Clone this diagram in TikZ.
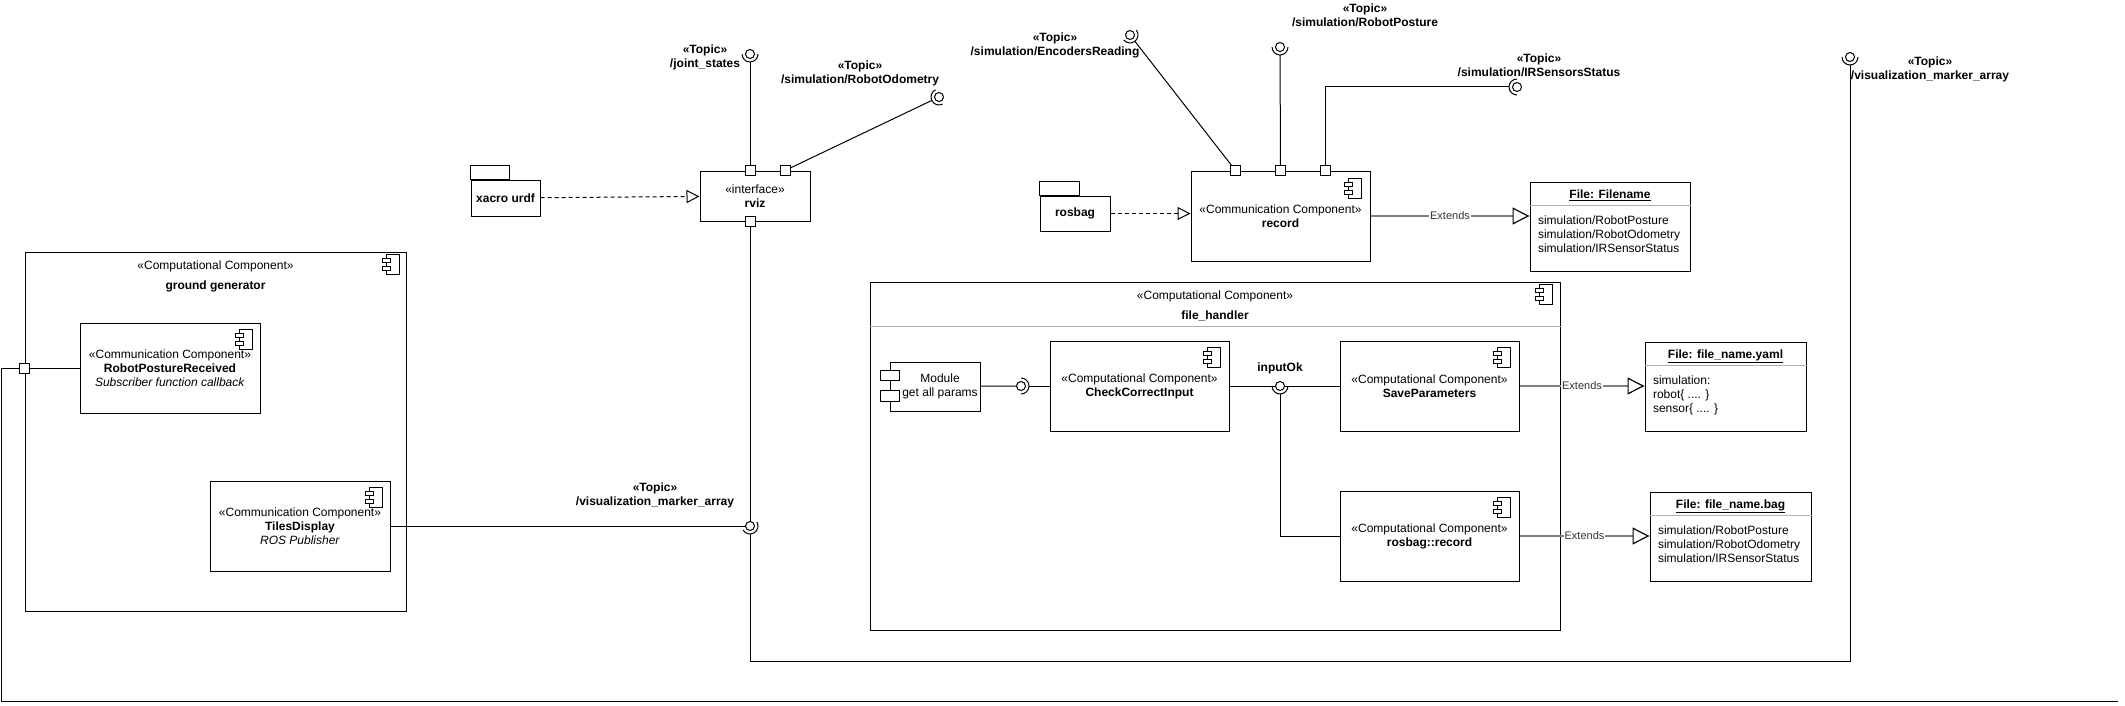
\documentclass[tikz,border=0pt]{standalone}
\usepackage{fontspec}
\setmainfont{Liberation Sans}
\usepackage{tikz}
\usetikzlibrary{arrows.meta, positioning}

\tikzset{
    compicon/.pic={
        \draw[line width=1pt] (-6,-10) rectangle (7,10);
        \draw[fill=white, line width=1pt] (-10,-6) rectangle (-2,-2);
        \draw[fill=white, line width=1pt] (-10,2) rectangle (-2,6);
    }
}

% lollipop: name, position, start angle of the socket arc
\newcommand{\topicball}[3]{%
    \node[ball] (#1) at (#2) {};
    \draw (#1.center) circle (4.5pt);
    \draw (#1.#3) arc[start angle=#3, delta angle=180, radius=8pt];
}

\begin{document}
\begin{tikzpicture}[x=1pt, y=-1pt, line width=1pt,
    font=\fontsize{12}{14}\selectfont, node distance=4pt,
    comp/.style={draw, rectangle, fill=white, align=center, inner sep=2pt},
    port/.style={draw, rectangle, fill=white, minimum size=10pt, inner sep=0pt},
    ball/.style={circle, minimum size=16pt, inner sep=0pt, outer sep=0pt},
    topic/.style={align=center, font=\fontsize{12}{14}\selectfont\bfseries},
    filebox/.style={draw, rectangle, fill=white, minimum width=161pt, minimum height=89pt},
    filetext/.style={anchor=north west, align=left, inner sep=2pt},
    pkg/.style={draw, rectangle, fill=white, font=\fontsize{12}{14}\selectfont\bfseries},
    realize/.style={dash pattern=on 4pt off 3pt, line width=1pt, -{Triangle[open, length=13pt, width=13pt]}},
    extends/.style={draw=gray, line width=2.5pt, -{Triangle[open, length=17pt, width=17pt, color=black, line width=1.2pt]}},
    extlabel/.style={fill=white, inner sep=1pt, text=black!80, font=\fontsize{11}{13}\selectfont}]

    \useasboundingbox (0,0) rectangle (2125,706);

    % Define nodes
    \node[comp, minimum width=381pt, minimum height=359pt] (gg) at (215.5,431.5) {};
    \node[below=5pt of gg.north, align=center] (ggtitle) {«Computational Component»\\[6pt]\textbf{ground generator}};
    \node[comp, minimum width=180pt, minimum height=90pt] (rpr) at (170,368) {«Communication Component»\\\textbf{RobotPostureReceived}\\\textit{Subscriber function callback}};
    \node[comp, minimum width=180pt, minimum height=90pt] (tiles) at (300,526) {«Communication Component»\\\textbf{TilesDisplay}\\\textit{ROS Publisher}};
    \node[port] (ggport) at (gg.west |- rpr.west) {};

    \node[pkg, minimum width=69pt, minimum height=36pt] (xacro) at (505.5,198) {xacro urdf};
    \draw[fill=white] (xacro.north west) rectangle ++(39,-14);
    \node[comp, minimum width=110pt, minimum height=50pt] (rviz) at (755,196) {«interface»\\\textbf{rviz}};
    \node[port] (rvizjs) at ([xshift=-5pt]rviz.north) {};
    \node[port] (rvizodo) at ([xshift=30pt]rviz.north) {};
    \node[port] (rvizbot) at ([xshift=-5pt]rviz.south) {};

    \node[pkg, minimum width=70pt, minimum height=35pt] (rosbag) at (1075,213.5) {rosbag};
    \draw[fill=white] (rosbag.north west) rectangle ++(40,-14);
    \node[comp, minimum width=179pt, minimum height=90pt] (rec) at (1280.5,216) {«Communication Component»\\\textbf{record}};
    \node[port] (recenc) at ([xshift=-45pt]rec.north) {};
    \node[port] (recrp) at (rec.north) {};
    \node[port] (recir) at ([xshift=45pt]rec.north) {};

    \node[filebox, minimum width=160pt] (fname) at (1610,226.5) {};
    \node[below=4.5pt of fname.north] (fnametitle) {\textbf{\underline{File: Filename}}};
    \draw[gray!60, line width=1pt] ([yshift=-24pt]fname.north west) -- ([yshift=-24pt]fname.north east);
    \node[filetext] (fnamebody) at ([xshift=6pt, yshift=-32pt]fname.north west) {simulation/RobotPosture\\simulation/RobotOdometry\\simulation/IRSensorStatus};

    \node[comp, minimum width=690pt, minimum height=348pt] (fh) at (1215,456) {};
    \node[below=5pt of fh.north, align=center] (fhtitle) {«Computational Component»\\[6pt]\textbf{file\_handler}};
    \draw[gray!60] ([yshift=-45pt]fh.north west) -- ([yshift=-45pt]fh.north east);

    \node[comp, minimum width=90pt, minimum height=49pt] (mod) at (935,386.5) {};
    \draw[fill=white] ([shift={(-9pt,-9pt)}]mod.north west) rectangle ++(19,10);
    \draw[fill=white] ([shift={(-9pt,-29pt)}]mod.north west) rectangle ++(19,11);
    \node[align=center] (modtext) at ([xshift=5pt]mod.center) {Module\\get all params};
    \node[comp, minimum width=179pt, minimum height=90pt] (chk) at (1139.5,386) {«Computational Component»\\\textbf{CheckCorrectInput}};
    \node[comp, minimum width=179pt, minimum height=90pt] (save) at (1429.5,386) {«Computational Component»\\\textbf{SaveParameters}};
    \node[comp, minimum width=179pt, minimum height=90pt] (rbrec) at (1429.5,536) {«Computational Component»\\\textbf{rosbag::record}};

    \node[filebox] (yaml) at (1725.5,386.5) {};
    \node[below=4.5pt of yaml.north] (yamltitle) {\textbf{\underline{File: file\_name.yaml}}};
    \draw[gray!60, line width=1pt] ([yshift=-24pt]yaml.north west) -- ([yshift=-24pt]yaml.north east);
    \node[filetext] (yamlbody) at ([xshift=6pt, yshift=-32pt]yaml.north west) {simulation:\\robot\{ .... \}\\sensor\{ .... \}};

    \node[filebox] (bag) at (1730.5,536.5) {};
    \node[below=4.5pt of bag.north] (bagtitle) {\textbf{\underline{File: file\_name.bag}}};
    \draw[gray!60, line width=1pt] ([yshift=-24pt]bag.north west) -- ([yshift=-24pt]bag.north east);
    \node[filetext] (bagbody) at ([xshift=6pt, yshift=-32pt]bag.north west) {simulation/RobotPosture\\simulation/RobotOdometry\\simulation/IRSensorStatus};

    \pic at ([xshift=-14pt, yshift=-13pt]gg.north east) {compicon};
    \pic at ([xshift=-15pt, yshift=-17pt]rpr.north east) {compicon};
    \pic at ([xshift=-15pt, yshift=-17pt]tiles.north east) {compicon};
    \pic at ([xshift=-16pt, yshift=-18pt]rec.north east) {compicon};
    \pic at ([xshift=-15pt, yshift=-13pt]fh.north east) {compicon};
    \pic at ([xshift=-16pt, yshift=-17pt]chk.north east) {compicon};
    \pic at ([xshift=-16pt, yshift=-17pt]save.north east) {compicon};
    \pic at ([xshift=-16pt, yshift=-17pt]rbrec.north east) {compicon};

    % Topics
    \topicball{js}{750,54}{180}
    \topicball{odo}{939,97}{116}
    \topicball{enc}{1130,35}{218}
    \topicball{rp}{1280,47}{180}
    \topicball{ir}{1517,87}{90}
    \topicball{visr}{1850,57}{180}
    \topicball{vislow}{750,526}{210}
    \topicball{ms}{1021,386}{-90}
    \topicball{io}{1280,386}{180}
    \node[topic] (jstext) at (705,57) {«Topic»\\/joint\_states};
    \node[topic] (odotext) at (860,73) {«Topic»\\/simulation/RobotOdometry};
    \node[topic] (enctext) at (1055,45) {«Topic»\\/simulation/EncodersReading};
    \node[topic] (rptext) at (1365,15) {«Topic»\\/simulation/RobotPosture};
    \node[topic] (irtext) at (1539,65) {«Topic»\\/simulation/IRSensorsStatus};
    \node[topic] (vistext) at (1930,69) {«Topic»\\/visualization\_marker\_array};
    \node[topic] (vislowtext) at (655,495) {«Topic»\\/visualization\_marker\_array};
    \node[above=0pt of io, font=\fontsize{12}{14}\selectfont\bfseries] (iolabel) {inputOk};

    \coordinate (wirecorner) at (1,701);
    \coordinate (wireend) at (2118,701);
    \coordinate (loopcorner) at (750,661);

    % Draw arrows
    \draw (rvizjs) -- (js);
    \draw (rvizodo) -- (odo);
    \draw (recenc) -- (enc);
    \draw (recrp) -- (rp);
    \draw (recir) |- (ir);
    \draw[realize] (xacro) -- (rviz);
    \draw[realize] (rosbag) -- (rosbag -| rec.west);
    \draw[extends] (rec.east) -- node[extlabel] (ext1) {Extends} (rec.east -| fname.west);
    \draw (ggport) -- (rpr);
    \draw (ggport.west) -| (wirecorner) -- (wireend);
    \draw (tiles) -- ([xshift=-4.5pt]vislow.center);
    \draw (rvizbot) -- ([yshift=4.5pt]vislow.center);
    \draw (vislow) -- (loopcorner) -| (visr);
    \draw (mod) -- ([xshift=-4.5pt]ms.center);
    \draw (ms) -- (chk);
    \draw (chk) -- ([xshift=-4.5pt]io.center);
    \draw ([xshift=4.5pt]io.center) -- (save);
    \draw (io) |- (rbrec);
    \draw[extends] (save.east) -- node[extlabel] (ext2) {Extends} (save.east -| yaml.west);
    \draw[extends] (rbrec.east) -- node[extlabel] (ext3) {Extends} (rbrec.east -| bag.west);

\end{tikzpicture}
\end{document}
